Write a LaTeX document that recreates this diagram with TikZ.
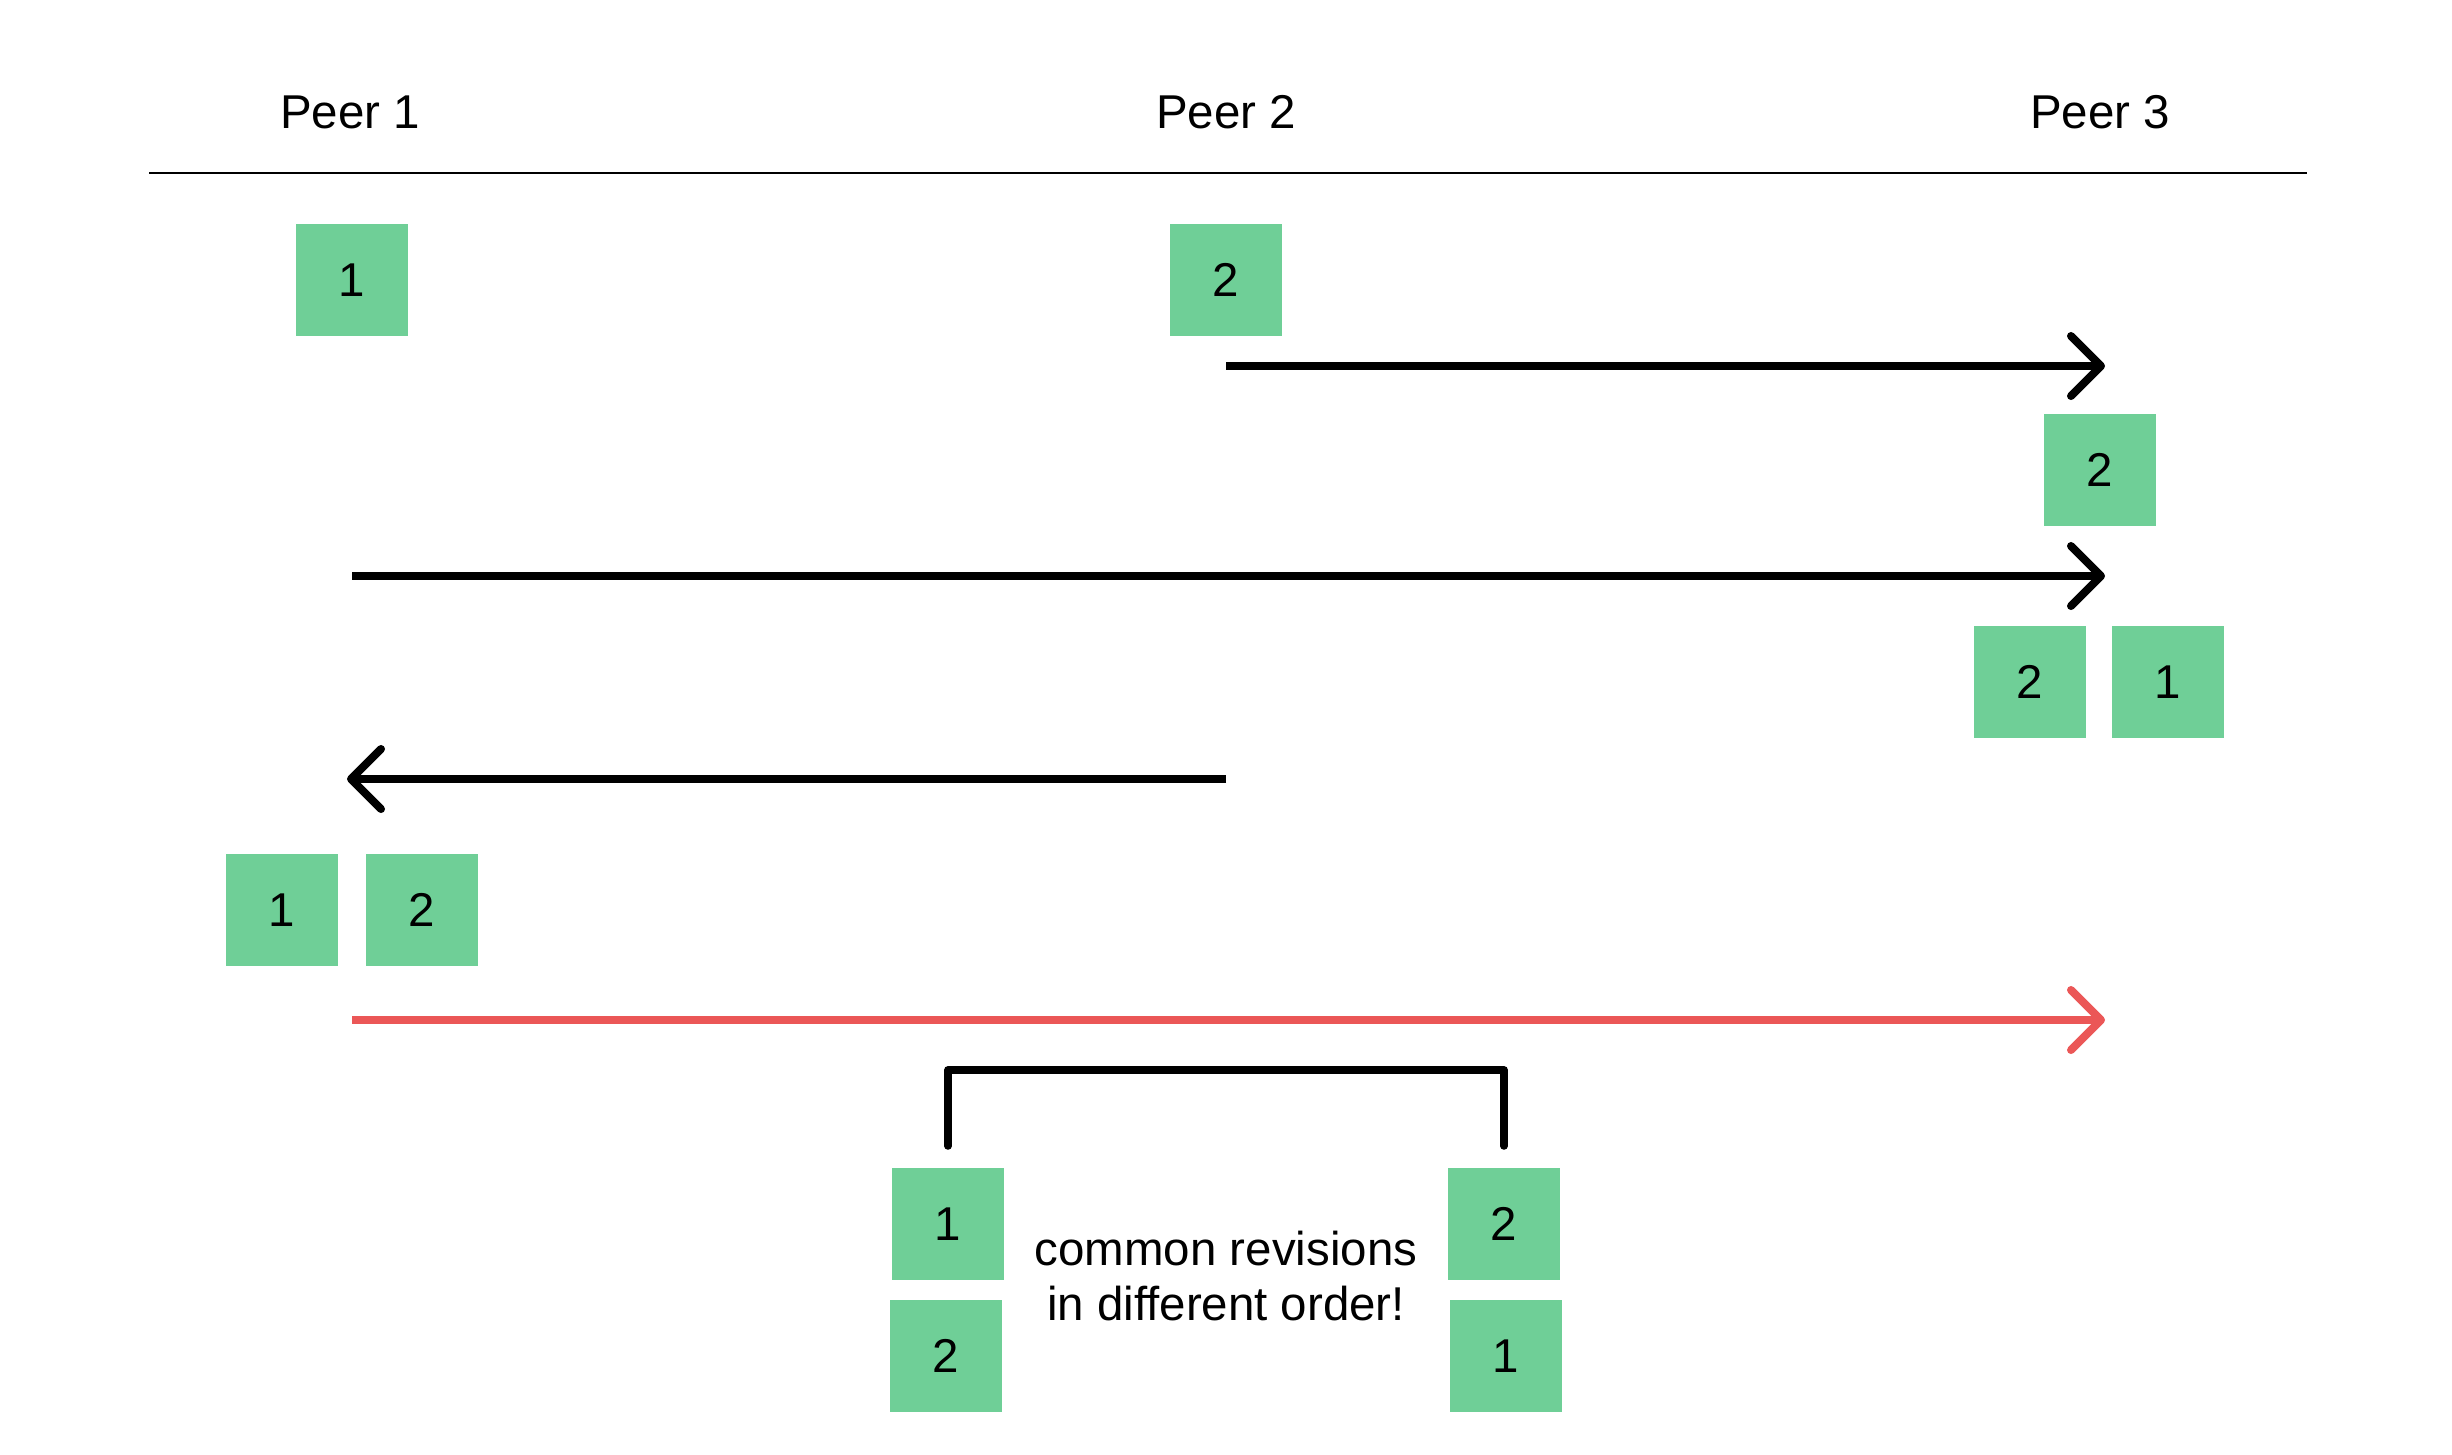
\documentclass[tikz,border=0pt]{standalone}
\usepackage{fontspec}
\setmainfont{Liberation Sans}
\usetikzlibrary{arrows.meta}
\definecolor{revgreen}{HTML}{6FCF97}
\definecolor{syncred}{HTML}{EB5757}

\begin{document}
\begin{tikzpicture}[x=0.01cm, y=-0.01cm, line join=round,
    txt/.style={font=\fontsize{13.5pt}{15.9pt}\selectfont, inner sep=0pt},
    rev/.style={txt, fill=revgreen, minimum size=1.12cm},
    sync/.style={line width=0.08cm, line cap=butt,
        -{Straight Barb[length=0.3cm, width=0.6cm, line width=0.08cm, line cap=round, line join=round]}}]
    \useasboundingbox (0,0) rectangle (2452,1454);

    % peers
    \node[txt, anchor=base] (peerA) at (350,128) {Peer 1};
    \node[txt, anchor=base] (peerB) at (1226,128) {Peer 2};
    \node[txt, anchor=base] (peerC) at (2100,128) {Peer 3};
    \coordinate (ruleL) at (149,173);
    \coordinate (ruleR) at (2307,173);
    \draw[line width=0.02cm] (ruleL) -- (ruleR);

    % revisions
    \node[rev] (A1) at (352,280) {1};
    \node[rev] (B2) at (1226,280) {2};
    \node[rev] (C2) at (2100,470) {2};
    \node[rev] (C2b) at (2030,682) {2};
    \node[rev] (C1b) at (2168,682) {1};
    \node[rev] (A1b) at (282,910) {1};
    \node[rev] (A2b) at (422,910) {2};

    % messages
    \coordinate (m1s) at (1226,366);
    \coordinate (m1e) at (2105,366);
    \coordinate (m2s) at (352,576);
    \coordinate (m2e) at (2105,576);
    \coordinate (m3s) at (1226,779);
    \coordinate (m3e) at (347,779);
    \coordinate (m4s) at (352,1020);
    \coordinate (m4e) at (2105,1020);
    \draw[sync] (m1s) -- (m1e);
    \draw[sync] (m2s) -- (m2e);
    \draw[sync] (m3s) -- (m3e);
    \draw[sync, syncred] (m4s) -- (m4e);

    % comparison
    \coordinate (brL) at (948,1146);
    \coordinate (brR) at (1504,1146);
    \draw[line width=0.075cm, line cap=round] (brL) -- (948,1070) -- (1504,1070) -- (brR);
    \node[rev] (L1) at (948,1224) {1};
    \node[rev] (L2) at (946,1356) {2};
    \node[rev] (R2) at (1504,1224) {2};
    \node[rev] (R1) at (1506,1356) {1};
    \node[txt, align=center] (note) at (1226,1276) {common revisions\\in different order!};
\end{tikzpicture}
\end{document}
